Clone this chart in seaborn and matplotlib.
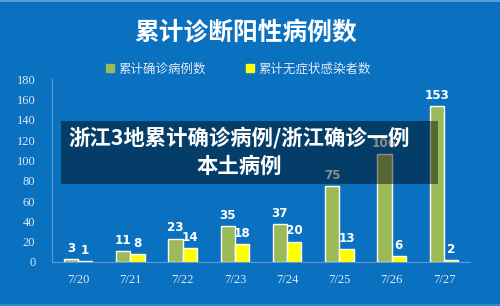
import matplotlib
matplotlib.use("Agg")
import matplotlib.pyplot as plt
import matplotlib.patches as mpatches
import seaborn as sns
import pandas as pd

# ---- data ----
dates = ['7/20', '7/21', '7/22', '7/23', '7/24', '7/25', '7/26', '7/27']
confirmed = [3, 11, 23, 35, 37, 75, 106, 153]
asymptomatic = [1, 8, 14, 18, 20, 13, 6, 2]
series_names = ['累计确诊病例数', '累计无症状感染者数']
yticks = [0, 20, 40, 60, 80, 100, 120, 140, 160, 180]
title = '累计诊断阳性病例数'
overlay_lines = ['浙江3地累计确诊病例/浙江确诊一例', '本土病例']

sns.set_theme(style='white')
plt.rcParams['font.family'] = ['Noto Sans CJK SC', 'DejaVu Sans']

BG = '#0a70c0'
GREEN = '#9bbb59'
YELLOW = '#ffff00'
TICKC = '#dfe9f5'

df = pd.DataFrame({
    'date': dates * 2,
    'value': confirmed + asymptomatic,
    'series': [series_names[0]] * len(dates) + [series_names[1]] * len(dates),
})

fig = plt.figure(figsize=(5, 3.06), dpi=100, facecolor=BG)
ax = fig.add_axes([0.104, 0.1438, 0.836, 0.598])
ax.set_facecolor(BG)

sns.barplot(data=df, x='date', y='value', hue='series', order=dates,
            hue_order=series_names, palette=[GREEN, YELLOW], width=0.55,
            saturation=1, ax=ax, legend=False)

ax.set_xlim(-0.5, 7.5)
ax.set_ylim(0, 180)
ax.set_yticks(yticks)
ax.set_xlabel('')
ax.set_ylabel('')
for s in ['top', 'right']:
    ax.spines[s].set_visible(False)
ax.spines['left'].set_color('#5d9ad6')
ax.spines['bottom'].set_color('#5d9ad6')
ax.spines['left'].set_linewidth(0.8)
ax.spines['bottom'].set_linewidth(0.8)
ax.tick_params(axis='both', length=0, colors=TICKC, labelsize=9)
ax.tick_params(axis='x', pad=9)
ax.tick_params(axis='y', pad=12)
for lbl in ax.get_xticklabels() + ax.get_yticklabels():
    lbl.set_fontfamily(['Liberation Serif', 'DejaVu Serif'])
    lbl.set_color(TICKC)

for cont in ax.containers:
    ax.bar_label(cont, padding=3, color='white', fontsize=9.5, fontweight='bold',
                 family='DejaVu Sans', fontstretch='condensed')

# legend
handles = [mpatches.Patch(color=GREEN, label=series_names[0]),
           mpatches.Patch(color=YELLOW, label=series_names[1])]
leg = fig.legend(handles=handles, loc='center', bbox_to_anchor=(0.477, 0.7745),
                 ncol=2, frameon=False, fontsize=9, handlelength=0.6,
                 handleheight=0.6, handletextpad=0.4, columnspacing=3.2)
for t in leg.get_texts():
    t.set_color(TICKC)

# title
fig.text(0.492, 0.892, title, ha='center', va='center', color='white',
         fontsize=17.8, fontweight='bold')

# top / bottom light strips
fig.patches.append(mpatches.Rectangle((0, 0.995), 1, 0.005, transform=fig.transFigure,
                                      facecolor='#5a9bd2', edgecolor='none', zorder=1))
fig.patches.append(mpatches.Rectangle((0, 0), 1, 0.007, transform=fig.transFigure,
                                      facecolor='#2f86cf', edgecolor='none', zorder=1))

# overlay band
fig.patches.append(mpatches.Rectangle((0.122, 0.3987), 0.754, 0.2059,
                                      transform=fig.transFigure, facecolor='black',
                                      alpha=0.45, edgecolor='none', zorder=5))
fig.text(0.479, 1 - 138 / 306, overlay_lines[0], ha='center', va='center',
         color='white', fontsize=15.4, fontweight='bold', zorder=6)
fig.text(0.479, 1 - 166 / 306, overlay_lines[1], ha='center', va='center',
         color='white', fontsize=15.4, fontweight='bold', zorder=6)

fig.savefig('out.png', dpi=100, facecolor=BG)
